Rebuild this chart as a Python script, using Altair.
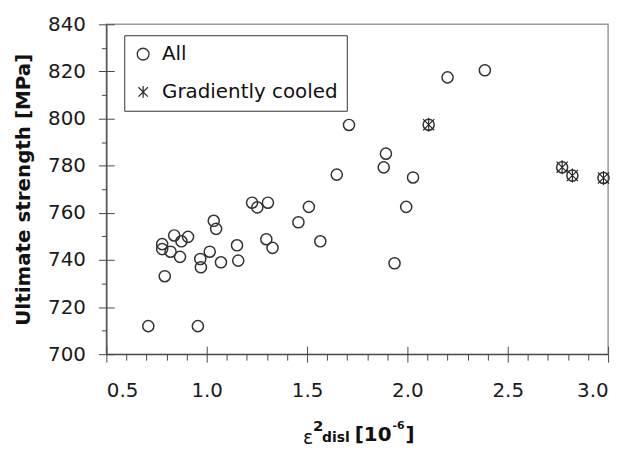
import altair as alt
import pandas as pd

# ---- data ----
x_all = [0.709, 0.956, 1.648, 1.226, 1.252, 1.305, 1.509, 1.457, 1.035, 1.047,
         0.838, 0.907, 0.874, 0.778, 0.778, 0.820, 1.297, 1.328, 1.566, 1.151,
         1.157, 1.015, 0.867, 0.968, 0.971, 1.071, 0.791, 1.709, 2.200, 2.386,
         2.106, 1.893, 1.882, 2.028, 1.994, 1.936, 2.771, 2.822, 2.977]
y_all = [711.9, 711.9, 776.2, 764.3, 762.3, 764.3, 762.5, 756.0, 756.6, 753.2,
         750.4, 749.8, 747.9, 746.7, 744.6, 743.5, 748.8, 745.1, 747.9, 746.2,
         739.7, 743.5, 741.3, 740.4, 736.9, 739.0, 733.1, 797.3, 817.5, 820.5,
         797.4, 785.1, 779.3, 775.0, 762.5, 738.6, 779.3, 775.8, 774.8]
x_gc = [2.106, 2.771, 2.822, 2.977]
y_gc = [797.4, 779.3, 775.8, 774.8]
series_names = ["All", "Gradiently cooled"]

x_major = [0.5, 1.0, 1.5, 2.0, 2.5, 3.0]
x_minor = [0.6, 0.7, 0.8, 0.9, 1.1, 1.2, 1.3, 1.4, 1.6, 1.7, 1.8, 1.9,
           2.1, 2.2, 2.3, 2.4, 2.6, 2.7, 2.8, 2.9]
y_major = [700, 720, 740, 760, 780, 800, 820, 840]
y_minor = [710, 730, 750, 770, 790, 810, 830]

y_title = "Ultimate strength [MPa]"
x_title_parts = ["ε", "2", "disl", "[10", "-6", "]"]

df_all = pd.DataFrame({"x": x_all, "y": y_all, "series": series_names[0]})
df_gc = pd.DataFrame({"x": x_gc, "y": y_gc, "series": series_names[1]})

FONT = "DejaVu Sans"
AX = "#4a4a4a"
MK = "#333333"
W, H = 505, 332

xscale = alt.Scale(domain=[0.5, 3.0], nice=False, zero=False)
yscale = alt.Scale(domain=[700, 840], nice=False, zero=False)
ASTER = "M-0.8,-0.8L0.8,0.8M-0.8,0.8L0.8,-0.8M0,-1L0,1"
shape_scale = alt.Scale(domain=series_names, range=["circle", ASTER])


def make_legend():
    return alt.Legend(
        title=None, orient="none", legendX=18, legendY=11,
        strokeColor="#333333", fillColor="white", padding=9,
        labelFont=FONT, labelFontSize=20, labelColor="#111111",
        labelOffset=9, labelLimit=400, rowPadding=18, symbolSize=140,
        symbolStrokeWidth=1.3, symbolStrokeColor=MK,
    )


circles = alt.Chart(df_all).mark_point(
    filled=False, size=125, strokeWidth=1.5, color=MK, opacity=1
).encode(
    x=alt.X("x:Q", scale=xscale, axis=alt.Axis(
        orient="bottom", values=x_major, format=".1f", title=None,
        tickSize=8, tickWidth=1, labelPadding=19, domainWidth=1.3)),
    y=alt.Y("y:Q", scale=yscale, axis=alt.Axis(
        orient="left", values=y_major, format="d", title=y_title,
        tickSize=8, tickWidth=1, labelPadding=13, domainWidth=1.3,
        titleFont=FONT, titleFontWeight="bold", titleFontSize=20,
        titleColor="#111111", titlePadding=14)),
    shape=alt.Shape("series:N", scale=shape_scale, legend=make_legend()),
)

asters = alt.Chart(df_gc).mark_point(
    filled=False, size=200, strokeWidth=1.1, color="#222222", opacity=1
).encode(
    x=alt.X("x:Q", scale=xscale, axis=alt.Axis(
        orient="bottom", values=x_minor, labels=False, domain=False,
        title=None, tickSize=6, tickWidth=1)),
    y=alt.Y("y:Q", scale=yscale, axis=alt.Axis(
        orient="left", values=y_minor, labels=False, domain=False,
        title=None, tickSize=5, tickWidth=1)),
    shape=alt.Shape("series:N", scale=shape_scale, legend=make_legend()),
)

inward = alt.Chart(df_gc).mark_point(opacity=0).encode(
    x=alt.X("x:Q", scale=xscale, axis=alt.Axis(
        orient="top", offset=-H, values=x_major, labels=False, domain=False,
        title=None, tickSize=8, tickWidth=1)),
    y=alt.Y("y:Q", scale=yscale, axis=alt.Axis(
        orient="right", offset=-W, values=y_major, labels=False, domain=False,
        title=None, tickSize=8, tickWidth=1)),
)


def piece(i, px, py, size, weight):
    d = pd.DataFrame({"t": [x_title_parts[i]]})
    return alt.Chart(d).mark_text(
        font=FONT, fontSize=size, fontWeight=weight, color="#111111",
        align="left", baseline="alphabetic"
    ).encode(x=alt.value(px), y=alt.value(py), text="t:N")


DY = -5
title_layers = [
    piece(0, 198, 427 + DY, 19, "normal"),
    piece(1, 208, 414 + DY, 15, "bold"),
    piece(2, 217, 425 + DY, 14, "bold"),
    piece(3, 250, 424 + DY, 20, "bold"),
    piece(4, 288, 412 + DY, 11, "bold"),
    piece(5, 301, 424 + DY, 20, "bold"),
]

chart = alt.layer(circles, asters, inward, *title_layers).resolve_axis(
    x="independent", y="independent"
).properties(
    width=W, height=H,
    autosize=alt.AutoSizeParams(type="none"),
    padding={"left": 99, "top": 15, "right": 15, "bottom": 92},
    background="white",
).configure_view(
    stroke="#9a9a9a", strokeWidth=1.5
).configure_axis(
    labelFont=FONT, labelFontSize=20, labelColor="#1a1a1a",
    tickColor=AX, domainColor=AX, grid=False,
)

chart.save("out.html", embed_options={"renderer": "svg", "actions": False})
